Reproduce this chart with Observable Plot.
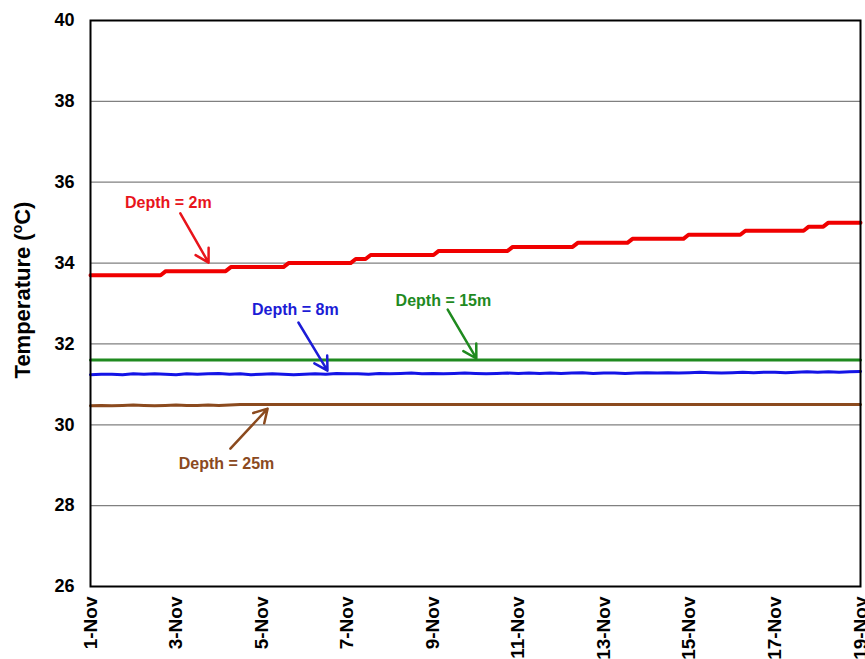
<!DOCTYPE html>
<html>
<head>
<meta charset="utf-8">
<script src="https://cdn.jsdelivr.net/npm/d3@7"></script>
<script src="https://cdn.jsdelivr.net/npm/@observablehq/plot@0.6"></script>
<style>
  body { margin: 0; background: white; }
  #chart svg { display: block; }
</style>
</head>
<body>
<div id="chart"></div>
<script>
// ---- Data (day offsets from 1-Nov 00:00) ----
// red (2 m): day on which each 0.1 °C step begins, and the level reached
const redStepDay  = [1.64, 3.16, 4.51, 6.08, 6.43, 8.02, 9.75, 11.27, 12.55, 13.86, 15.19, 16.67, 17.13];
const redStepTemp = [33.8, 33.9, 34.0, 34.1, 34.2, 34.3, 34.4, 34.5, 34.6, 34.7, 34.8, 34.9, 35.0];
const redStartTemp = 33.7;
const redEndDay = 18;

const greenDay  = [0, 18];
const greenTemp = [31.6, 31.6];

// blue (8 m), sampled every 0.25 day
const blueTemp = [
  31.24,31.25,31.25,31.24,31.26,31.25,31.26,31.25,31.24,31.26,31.25,31.26,31.27,31.25,31.26,31.24,31.25,31.26,31.25,31.24,
  31.25,31.26,31.25,31.27,31.26,31.26,31.25,31.27,31.26,31.27,31.28,31.26,31.27,31.26,31.27,31.28,31.27,31.26,31.27,31.28,
  31.27,31.28,31.27,31.28,31.27,31.28,31.29,31.27,31.28,31.28,31.27,31.28,31.29,31.28,31.29,31.28,31.29,31.30,31.29,31.28,
  31.29,31.30,31.29,31.30,31.30,31.29,31.30,31.31,31.30,31.31,31.30,31.31,31.32
];
const blueDay = blueTemp.map((_, i) => i * 0.25);

const brownDay  = [0,0.25,0.5,0.75,1,1.25,1.5,1.75,2,2.25,2.5,2.75,3,3.25,3.5,18];
const brownTemp = [30.47,30.48,30.47,30.48,30.49,30.48,30.47,30.48,30.49,30.48,30.48,30.49,30.48,30.49,30.50,30.50];

const xTickDays = [0, 2, 4, 6, 8, 10, 12, 14, 16, 18];
const yTicks = [26, 28, 30, 32, 34, 36, 38, 40];
const gridTicks = [28, 30, 32, 34, 36, 38];

// annotations
const labelText  = ["Depth = 2m", "Depth = 8m", "Depth = 15m", "Depth = 25m"];
const labelColor = ["#e8141b", "#1c1cd6", "#1f8a1f", "#8b4a1e"];
const labelDay   = [1.82, 4.79, 8.25, 3.18];
const labelTemp  = [35.50, 32.83, 33.07, 29.04];
const arrowDay1  = [2.10, 4.86, 8.35, 3.27];
const arrowTemp1 = [35.23, 32.53, 32.85, 29.41];
const arrowDay2  = [2.76, 5.54, 9.02, 4.14];
const arrowTemp2 = [34.01, 31.34, 31.64, 30.40];

// ---- Build ----
const base = Date.UTC(2023, 10, 1);
const toDate = d => new Date(base + d * 864e5);
const series = (days, temps) => days.map((d, i) => ({date: toDate(d), t: temps[i]}));

// red: short ramps at each step (as in the logger trace)
const ramp = 0.12;
const red = [{date: toDate(0), t: redStartTemp}];
redStepDay.forEach((d, i) => {
  const prev = i === 0 ? redStartTemp : redStepTemp[i - 1];
  red.push({date: toDate(d), t: prev});
  red.push({date: toDate(d + ramp), t: redStepTemp[i]});
});
red.push({date: toDate(redEndDay), t: redStepTemp[redStepTemp.length - 1]});

const green = series(greenDay, greenTemp);
const blue = series(blueDay, blueTemp);
const brown = series(brownDay, brownTemp);

const ann = labelText.map((s, i) => ({
  text: s, color: labelColor[i],
  x: toDate(labelDay[i]), y: labelTemp[i],
  x1: toDate(arrowDay1[i]), y1: arrowTemp1[i],
  x2: toDate(arrowDay2[i]), y2: arrowTemp2[i]
}));

const chart = Plot.plot({
  width: 865,
  height: 659,
  marginLeft: 90,
  marginRight: 5,
  marginTop: 20,
  marginBottom: 73,
  style: {fontFamily: "'Liberation Sans', Arial, sans-serif", background: "white"},
  x: {type: "utc", domain: [toDate(0), toDate(18)]},
  y: {domain: [26, 40]},
  marks: [
    Plot.gridY(gridTicks, {stroke: "#808080", strokeOpacity: 1, strokeWidth: 1.2}),
    Plot.line(brown, {x: "date", y: "t", stroke: "#8b4a1e", strokeWidth: 3}),
    Plot.line(green, {x: "date", y: "t", stroke: "#1f8a1f", strokeWidth: 3}),
    Plot.line(blue, {x: "date", y: "t", stroke: "#1414e6", strokeWidth: 3}),
    Plot.line(red, {x: "date", y: "t", stroke: "#f00000", strokeWidth: 4}),
    Plot.arrow(ann, {x1: "x1", y1: "y1", x2: "x2", y2: "y2", stroke: "color", strokeWidth: 2.5, headLength: 9, bend: false}),
    Plot.text(ann, {x: "x", y: "y", text: "text", fill: "color", fontSize: 16, fontWeight: "bold"}),
    Plot.frame({stroke: "black", strokeWidth: 2}),
    Plot.axisY(yTicks, {tickSize: 0, tickPadding: 16, fontSize: 18, fontWeight: "bold", fill: "black", label: null}),
    Plot.axisX(xTickDays.map(toDate), {tickSize: 0, tickPadding: 10, tickRotate: -90, fontSize: 19, fontWeight: "bold", fill: "black", tickFormat: d3.utcFormat("%-d-%b"), label: null})
  ]
});

// y-axis title with superscript "o"
const svg = d3.select(chart);
const title = svg.append("text")
  .attr("transform", "translate(30,290) rotate(-90)")
  .attr("text-anchor", "middle")
  .attr("font-family", "'Liberation Sans', Arial, sans-serif")
  .attr("font-size", 22)
  .attr("font-weight", "bold")
  .attr("fill", "black");
title.append("tspan").text("Temperature (");
title.append("tspan").attr("font-size", 14).attr("dy", -8).text("o");
title.append("tspan").attr("dy", 8).text("C)");

document.getElementById("chart").appendChild(chart);
</script>
</body>
</html>
